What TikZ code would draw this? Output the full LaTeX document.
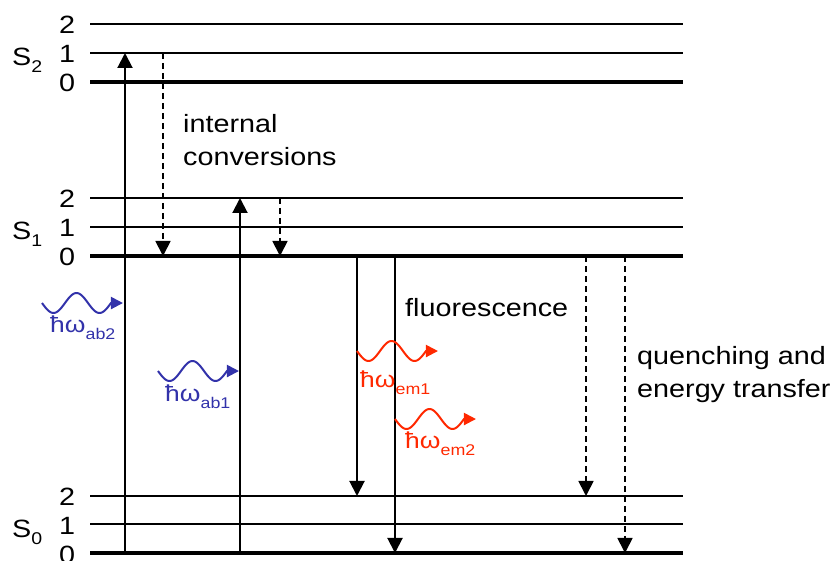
\documentclass[tikz,border=0pt]{standalone}
\usepackage{fontspec}
\setmainfont{Liberation Sans}
\usetikzlibrary{calc}
\usetikzlibrary{arrows.meta}
\definecolor{abblue}{RGB}{50,50,170}
\definecolor{emred}{RGB}{255,40,0}
\newcommand{\lblfont}{\fontsize{25}{33}\selectfont}
\newcommand{\subfont}{\fontsize{17}{20}\selectfont}
\newcommand{\hwsub}[1]{\raisebox{-7pt}{\fontsize{15.5}{18}\selectfont #1}}
\newcommand{\ssub}[1]{\raisebox{-7pt}{\subfont #1}}
\tikzset{
   level/.style={draw=black, line width=2pt},
   ground/.style={draw=black, line width=4pt},
   radiative/.style={draw=black, line width=2pt,
      -{Triangle[length=15pt,width=15pt]}},
   nonrad/.style={draw=black, line width=1.8pt, dash pattern=on 6pt off 4pt,
      -{Triangle[length=15pt,width=15pt]}},
   photon/.style={line width=2pt, -{Triangle[length=12pt,width=12pt]}},
   vib/.style={font=\lblfont, xscale=1.15, inner sep=0pt, anchor=base},
   words/.style={font=\lblfont, xscale=1.15, inner sep=0pt, anchor=base west},
   hw/.style={font=\fontsize{23}{26}\selectfont, xscale=1.15, inner sep=0pt, anchor=base west},
}

\begin{document}
\begin{tikzpicture}[x=1pt,y=-1pt]
            \useasboundingbox (0,0) rectangle (831,561);
            % vibrational levels
            \coordinate (rt) at (683,0);
            \coordinate (S2v2) at (90,24);
            \coordinate (S2v1) at (90,53);
            \coordinate (S2v0) at (90,82);
            \coordinate (S1v2) at (90,198);
            \coordinate (S1v1) at (90,227);
            \coordinate (S1v0) at (90,256);
            \coordinate (S0v2) at (90,496);
            \coordinate (S0v1) at (90,524);
            \coordinate (S0v0) at (90,553);
            \draw[level](S2v2)to(S2v2 -| rt);
            \draw[level](S2v1)to(S2v1 -| rt);
            \draw[ground](S2v0)to(S2v0 -| rt);
            \draw[level](S1v2)to(S1v2 -| rt);
            \draw[level](S1v1)to(S1v1 -| rt);
            \draw[ground](S1v0)to(S1v0 -| rt);
            \draw[level](S0v2)to(S0v2 -| rt);
            \draw[level](S0v1)to(S0v1 -| rt);
            \draw[ground](S0v0)to(S0v0 -| rt);
            \node[vib] (n22) at (67,34) {2};
            \node[vib] (n21) at (67,63) {1};
            \node[vib] (n20) at (67,92) {0};
            \node[vib] (n12) at (67,208) {2};
            \node[vib] (n11) at (67,237) {1};
            \node[vib] (n10) at (67,266) {0};
            \node[vib] (n02) at (67,506) {2};
            \node[vib] (n01) at (67,534) {1};
            \node[vib] (n00) at (67,563) {0};
            \node[words] (S2) at (12,66) {S\ssub{2}};
            \node[words] (S1) at (12,240) {S\ssub{1}};
            \node[words] (S0) at (12,537) {S\ssub{0}};
            % transitions
            \coordinate (xab2) at (125,0);
            \coordinate (xab1) at (240,0);
            \coordinate (xic2) at (163,0);
            \coordinate (xic1) at (280,0);
            \coordinate (xem1) at (357,0);
            \coordinate (xem2) at (395,0);
            \coordinate (xq1) at (586,0);
            \coordinate (xq2) at (625,0);
            \draw[radiative](xab2 |- S0v0)to(xab2 |- S2v1);
            \draw[radiative](xab1 |- S0v0)to(xab1 |- S1v2);
            \draw[nonrad](xic2 |- S2v1)to(xic2 |- S1v0);
            \draw[nonrad](xic1 |- S1v2)to(xic1 |- S1v0);
            \draw[radiative](xem1 |- S1v0)to(xem1 |- S0v2);
            \draw[radiative](xem2 |- S1v0)to(xem2 |- S0v0);
            \draw[nonrad](xq1 |- S1v0)to(xq1 |- S0v2);
            \draw[nonrad](xq2 |- S1v0)to(xq2 |- S0v0);
            % photons
            \coordinate (pab2) at (42,303);
            \coordinate (pab1) at (158,371);
            \coordinate (pem1) at (357,351);
            \coordinate (pem2) at (395,419);
            \draw[photon, abblue, shift={(pab2)}] plot[domain=0:1.5, samples=40, smooth] ({\x*46},{10*sin(\x*360)}) -- ++(12,0);
            \draw[photon, abblue, shift={(pab1)}] plot[domain=0:1.5, samples=40, smooth] ({\x*46},{10*sin(\x*360)}) -- ++(12,0);
            \draw[photon, emred, shift={(pem1)}] plot[domain=0:1.5, samples=40, smooth] ({\x*46},{10*sin(\x*360)}) -- ++(12,0);
            \draw[photon, emred, shift={(pem2)}] plot[domain=0:1.5, samples=40, smooth] ({\x*46},{10*sin(\x*360)}) -- ++(12,0);
            \node[hw, text=abblue] (hab2) at (50,333) {ħω\hwsub{ab2}};
            \node[hw, text=abblue] (hab1) at (165,402) {ħω\hwsub{ab1}};
            \node[hw, text=emred] (hem1) at (360,388) {ħω\hwsub{em1}};
            \node[hw, text=emred] (hem2) at (405,449) {ħω\hwsub{em2}};
            % process labels
            \node[words] (ic) at (183,133) {internal};
            \node[words] (ic2) at (183,166) {conversions};
            \node[words] (fl) at (405,317) {fluorescence};
            \node[words] (qu) at (637,365) {quenching and};
            \node[words] (qu2) at (637,398) {energy transfer};
        \end{tikzpicture}
\end{document}
